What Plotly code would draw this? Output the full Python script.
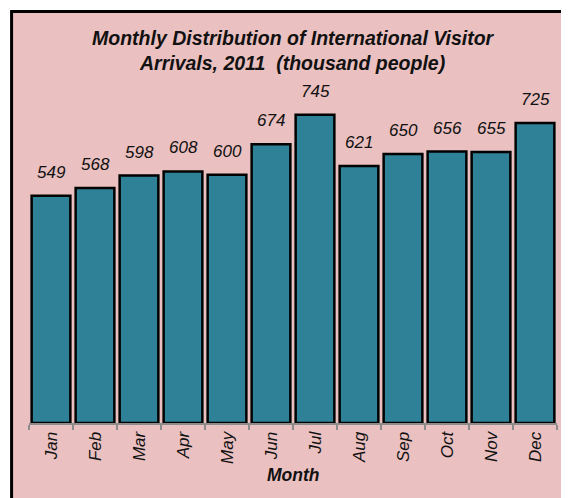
import plotly.graph_objects as go

months = ["Jan", "Feb", "Mar", "Apr", "May", "Jun", "Jul", "Aug", "Sep", "Oct", "Nov", "Dec"]
arrivals = [549, 568, 598, 608, 600, 674, 745, 621, 650, 656, 655, 725]

PINK = "#eac0c0"
TEAL = "#2e8196"
FONT = "Liberation Sans, Arial, sans-serif"

fig = go.Figure()
fig.add_trace(
    go.Bar(
        x=months,
        y=arrivals,
        marker=dict(color=TEAL, line=dict(color="#000000", width=2.5)),
        width=0.88,
    )
)

# value labels above the bars
for m, v in zip(months, arrivals):
    fig.add_annotation(
        x=m, y=v, text=str(v), showarrow=False, yanchor="bottom", yshift=12,
        font=dict(family=FONT, size=17, color="#111111", style="italic"),
    )

# pink frame with black border
fig.add_shape(
    type="rect", xref="paper", yref="paper",
    x0=-0.033, x1=1.019, y0=-0.26, y1=1.243,
    fillcolor=PINK, line=dict(color="#000000", width=3), layer="below",
)

fig.add_annotation(
    text="<b><i>Monthly Distribution of International Visitor<br>Arrivals, 2011  (thousand people)</i></b>",
    xref="paper", yref="paper", x=0.5, y=1.125, yanchor="middle", showarrow=False,
    font=dict(family=FONT, size=19.5, color="#111111"),
)
fig.add_annotation(
    text="<b><i>Month</i></b>",
    xref="paper", yref="paper", x=0.5, y=-0.157, yanchor="middle", showarrow=False,
    font=dict(family=FONT, size=17.5, color="#111111"),
)

fig.update_layout(
    width=561,
    height=490,
    paper_bgcolor="#ffffff",
    plot_bgcolor="rgba(0,0,0,0)",
    margin=dict(l=21, r=12, t=84, b=75),
    showlegend=False,
    xaxis=dict(
        showgrid=False,
        showline=True, linecolor="#8c8c8c", linewidth=2,
        ticks="outside", tickson="boundaries", tickcolor="#8c8c8c", ticklen=5, tickwidth=2,
        tickangle=-90,
        tickfont=dict(family=FONT, size=17, color="#111111", style="italic"),
    ),
    yaxis=dict(range=[0, 800], visible=False),
)

fig.write_html("out.html")
